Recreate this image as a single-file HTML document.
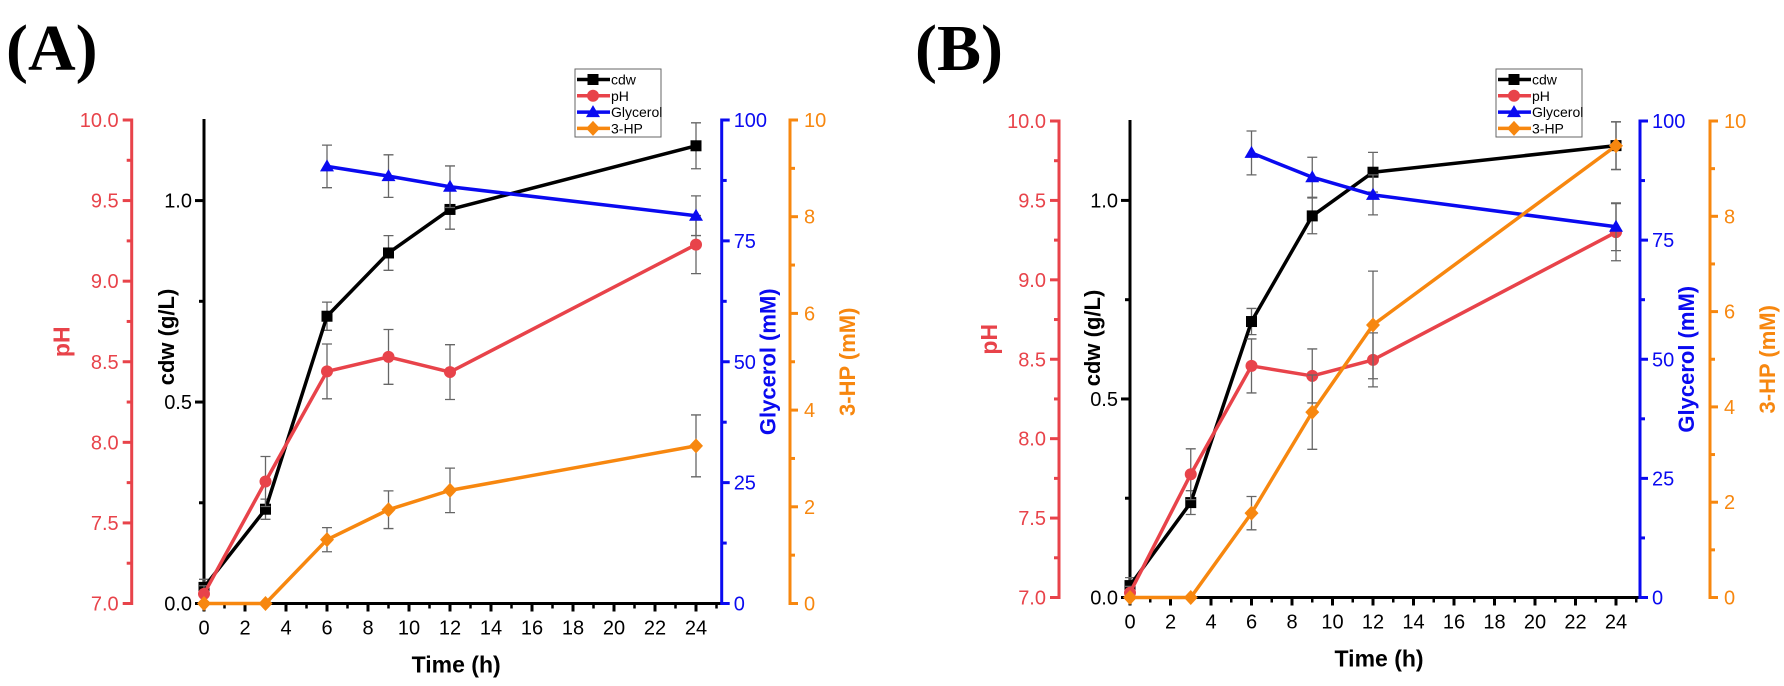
<!DOCTYPE html>
<html><head><meta charset="utf-8">
<style>
html,body{margin:0;padding:0;background:#fff;}
svg{display:block;font-family:"Liberation Sans",sans-serif;}
</style></head>
<body>
<svg id="fig" width="1784" height="686" viewBox="0 0 1784 686" xmlns="http://www.w3.org/2000/svg">
<rect width="1784" height="686" fill="#fff"/>
</svg>
<script>
const times = [0, 3, 6, 9, 12, 24];
const glyTimes = [6, 9, 12, 24];
const xTicks = [0,2,4,6,8,10,12,14,16,18,20,22,24];
const phTicks = [7.0,7.5,8.0,8.5,9.0,9.5,10.0];
const cdwTicks = [0.0,0.5,1.0];
const glyTicks = [0,25,50,75,100];
const hpTicks = [0,2,4,6,8,10];

const aCdw = [0.04,0.234,0.713,0.870,0.978,1.136];
const aCdwErr = [0.02,0.025,0.035,0.043,0.049,0.057];
const aPh = [7.06,7.757,8.44,8.53,8.436,9.227];
const aPhErr = [0.05,0.155,0.17,0.17,0.17,0.18];
const aGly = [90.4,88.4,86.2,80.2];
const aGlyErr = [4.4,4.4,4.3,4.1];
const aHp = [0,0,1.32,1.94,2.34,3.26];
const aHpErr = [0,0,0.25,0.39,0.46,0.64];

const bCdw = [0.03,0.239,0.695,0.961,1.071,1.138];
const bCdwErr = [0.02,0.03,0.033,0.045,0.05,0.06];
const bPh = [7.03,7.776,8.458,8.395,8.496,9.30];
const bPhErr = [0.04,0.16,0.17,0.17,0.17,0.18];
const bGly = [93.3,88.2,84.5,77.8];
const bGlyErr = [4.6,4.2,4.2,5];
const bHp = [0,0,1.77,3.89,5.72,9.48];
const bHpErr = [0,0,0.35,0.78,1.13,0.5];

const NS = "http://www.w3.org/2000/svg";
const svg = document.getElementById('fig');
const RED="#e8434a", BLUE="#0a0af0", ORANGE="#f7870f", BLACK="#000";

function mk(tag, attrs, parent){
  const e=document.createElementNS(NS,tag);
  for(const k in attrs) e.setAttribute(k,attrs[k]);
  (parent||svg).appendChild(e);
  return e;
}
function txt(s, attrs, parent){ const t=mk('text',attrs,parent); t.textContent=s; return t; }

function marker(g, shape, x, y, color){
  let m;
  if(shape==='square') m=mk('rect',{x:x-5.5,y:y-5.5,width:11,height:11,fill:color},g);
  else if(shape==='circle') m=mk('circle',{cx:x,cy:y,r:6,fill:color},g);
  else if(shape==='tri') m=mk('polygon',{points:`${x},${y-7} ${x+7},${y+5} ${x-7},${y+5}`,fill:color},g);
  else m=mk('polygon',{points:`${x},${y-7.5} ${x+7},${y} ${x},${y+7.5} ${x-7},${y}`,fill:color},g);
  return m;
}

function panel(P, label, cdw, cdwErr, ph, phErr, gly, glyErr, hp, hpErr){
  const g=mk('g',{});
  
  
  const H=P.yBot-P.yTop;
  const X=t=>P.cdwX+t*P.xs;
  const Ycdw=v=>P.yBot-v/1.2*H;
  const Yph=v=>P.yBot-(v-7)/3*H;
  const Ygly=v=>P.yBot-v/100*H;
  const Yhp=v=>P.yBot-v/10*H;

  const pl=txt('('+label+')',{x:P.labX,y:70,'font-family':'"Liberation Serif",serif','font-weight':'bold','font-size':66,fill:'#000'},g);
  
  

  const phA=mk('g',{},g);
  
  
  mk('line',{x1:P.phX,y1:Yph(10)-1.5,x2:P.phX,y2:Yph(7)+1.5,stroke:RED,'stroke-width':3},phA);
  for(let v=7;v<=10.001;v+=0.25){
    const major=Math.abs(v*2-Math.round(v*2))<1e-6;
    mk('line',{x1:P.phX,y1:Yph(v),x2:P.phX-(major?9:5),y2:Yph(v),stroke:RED,'stroke-width':3},phA);
  }
  phTicks.forEach(v=>txt(v.toFixed(1),{x:P.phX-13,y:Yph(v)+7,'text-anchor':'end','font-size':20,fill:RED},phA));
  const pt=txt('pH',{x:0,y:0,'font-size':23,'font-weight':'bold',fill:RED,'text-anchor':'middle',transform:`translate(${P.phX-62},${(P.yTop+P.yBot)/2-20}) rotate(-90)`},phA);
  
  

  const cA=mk('g',{},g);
  
  
  mk('line',{x1:P.cdwX,y1:P.yTop-1,x2:P.cdwX,y2:P.yBot+1.5,stroke:BLACK,'stroke-width':3},cA);
  [0,0.25,0.5,0.75,1.0].forEach(v=>{
    const major=Math.abs(v*2-Math.round(v*2))<1e-6;
    mk('line',{x1:P.cdwX,y1:Ycdw(v),x2:P.cdwX-(major?9:5),y2:Ycdw(v),stroke:BLACK,'stroke-width':3},cA);
  });
  cdwTicks.forEach(v=>txt(v.toFixed(1),{x:P.cdwX-12,y:Ycdw(v)+7,'text-anchor':'end','font-size':20,fill:'#000'},cA));
  const ct=txt('cdw (g/L)',{x:0,y:0,'font-size':22,'font-weight':'bold',fill:'#000','text-anchor':'middle',transform:`translate(${P.cdwX-30},${P.yTop+217}) rotate(-90)`},cA);
  
  

  const xA=mk('g',{},g);
  
  
  mk('line',{x1:P.cdwX-1.5,y1:P.yBot,x2:P.glyX,y2:P.yBot,stroke:BLACK,'stroke-width':3},xA);
  for(let t=0;t<=25;t++){
    const major=t%2===0;
    mk('line',{x1:X(t),y1:P.yBot,x2:X(t),y2:P.yBot+(major?8:5),stroke:BLACK,'stroke-width':major?3:2.5},xA);
  }
  xTicks.forEach(t=>txt(String(t),{x:X(t),y:P.yBot+31,'text-anchor':'middle','font-size':20,fill:'#000'},xA));
  const xt=txt('Time (h)',{x:X(12.3),y:P.yBot+69,'text-anchor':'middle','font-size':23,'font-weight':'bold',fill:'#000'},xA);
  
  

  const gA=mk('g',{},g);
  
  
  mk('line',{x1:P.glyX,y1:Ygly(100)-1.5,x2:P.glyX,y2:P.yBot+1.5,stroke:BLUE,'stroke-width':3},gA);
  for(let v=0;v<=100;v+=12.5){
    const major=v%25===0;
    mk('line',{x1:P.glyX,y1:Ygly(v),x2:P.glyX+(major?8:5),y2:Ygly(v),stroke:BLUE,'stroke-width':3},gA);
  }
  glyTicks.forEach(v=>txt(String(v),{x:P.glyX+12,y:Ygly(v)+7,'font-size':20,fill:BLUE},gA));
  const gt=txt('Glycerol (mM)',{x:0,y:0,'font-size':22,'font-weight':'bold',fill:BLUE,'text-anchor':'middle',transform:`translate(${P.glyX+54},${(P.yTop+P.yBot)/2}) rotate(-90)`},gA);
  
  

  const hA=mk('g',{},g);
  
  
  mk('line',{x1:P.hpX,y1:Yhp(10)-1.5,x2:P.hpX,y2:P.yBot+1.5,stroke:ORANGE,'stroke-width':3},hA);
  for(let v=0;v<=10;v++){
    const major=v%2===0;
    mk('line',{x1:P.hpX,y1:Yhp(v),x2:P.hpX+(major?8:5),y2:Yhp(v),stroke:ORANGE,'stroke-width':3},hA);
  }
  hpTicks.forEach(v=>txt(String(v),{x:P.hpX+14,y:Yhp(v)+7,'font-size':20,fill:ORANGE},hA));
  const ht=txt('3-HP (mM)',{x:0,y:0,'font-size':22,'font-weight':'bold',fill:ORANGE,'text-anchor':'middle',transform:`translate(${P.hpX+65},${(P.yTop+P.yBot)/2}) rotate(-90)`},hA);
  
  

  const series=[
    {name:'cdw',ts:times,v:cdw,e:cdwErr,Y:Ycdw,c:BLACK,m:'square'},
    {name:'ph',ts:times,v:ph,e:phErr,Y:Yph,c:RED,m:'circle'},
    {name:'glycerol',ts:glyTimes,v:gly,e:glyErr,Y:Ygly,c:BLUE,m:'tri'},
    {name:'3hp',ts:times,v:hp,e:hpErr,Y:Yhp,c:ORANGE,m:'diamond'}
  ];
  series.forEach(s=>{
    const sg=mk('g',{},g);
    
    
    s.ts.forEach((t,i)=>{
      if(!s.e[i]) return;
      const x=X(t), y1=s.Y(s.v[i]+s.e[i]), y2=s.Y(s.v[i]-s.e[i]);
      const eb=mk('path',{d:`M${x},${y1}V${y2}M${x-5},${y1}H${x+5}M${x-5},${y2}H${x+5}`,stroke:'#666','stroke-width':1.3,fill:'none'},sg);
      
      
    });
    const pts=s.ts.map((t,i)=>X(t)+','+s.Y(s.v[i])).join(' ');
    const ln=mk('polyline',{points:pts,fill:'none',stroke:s.c,'stroke-width':3.5,'stroke-linejoin':'round'},sg);
    
    
    s.ts.forEach((t,i)=>{
      const mm=marker(sg,s.m,X(t),s.Y(s.v[i]),s.c);
      
      
    });
  });

  const lg=mk('g',{},g);
  
  
  mk('rect',{x:P.legX,y:69,width:86,height:68,fill:'#fff',stroke:'#666','stroke-width':1},lg);
  const names=['cdw','pH','Glycerol','3-HP'];
  series.forEach((s,i)=>{
    const ly=79.5+i*16.3;
    const le=mk('g',{},lg);
    
    
    mk('line',{x1:P.legX+2,y1:ly,x2:P.legX+35,y2:ly,stroke:s.c,'stroke-width':3.5},le);
    marker(le,s.m,P.legX+18,ly,s.c);
    txt(names[i],{x:P.legX+36,y:ly+5,'font-size':14,fill:'#000'},le);
  });
}

panel({labX:6,phX:131.7,cdwX:204,xs:20.5,yBot:603.5,yTop:120,glyX:721.7,hpX:790,legX:575},'A',aCdw,aCdwErr,aPh,aPhErr,aGly,aGlyErr,aHp,aHpErr);
panel({labX:915,phX:1059,cdwX:1130,xs:20.25,yBot:597.5,yTop:121,glyX:1640,hpX:1710,legX:1496},'B',bCdw,bCdwErr,bPh,bPhErr,bGly,bGlyErr,bHp,bHpErr);
</script>
</body></html>
